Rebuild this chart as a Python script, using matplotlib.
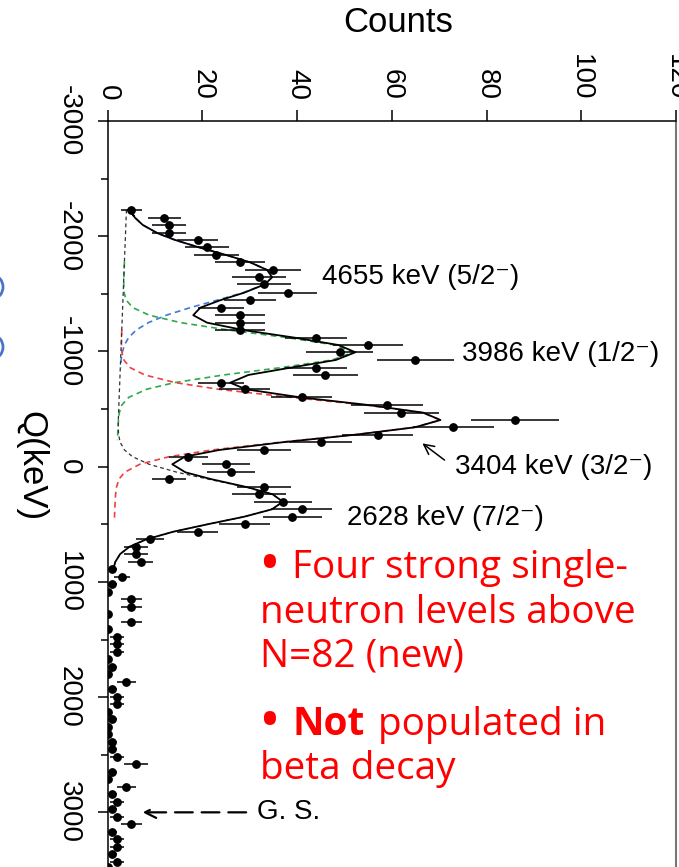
import numpy as np
import matplotlib
matplotlib.use("Agg")
import matplotlib.pyplot as plt
from matplotlib.patches import Ellipse

# measured spectrum: Q value of each bin (keV) and counts in it
q_kev = [-2228, -2162, -2098, -2026, -1968, -1904, -1838, -1774, -1707, -1644,
         -1583, -1510, -1444, -1380, -1315, -1250, -1185, -1120, -1056, -993,
         -926, -859, -796, -729, -672, -602, -536, -469, -405, -342,
         -278, -212, -145, -87, -21, 49, 107, 179, 240, 304,
         370, 434, 500, 564, 630, 694, 758, 827, 888, 955,
         1020, 1087, 1151, 1215, 1279, 1345, 1411, 1476, 1539, 1606,
         1669, 1736, 1802, 1866, 1932, 1997, 2060, 2127, 2190, 2257,
         2320, 2387, 2453, 2517, 2581, 2648, 2714, 2778, 2844, 2908,
         2974, 3038, 3102, 3168, 3234, 3299, 3362, 3429, 3472]
counts = [5, 12, 13, 13, 19, 21, 23, 28, 35, 32,
          33, 38, 30, 24, 28, 28, 28, 44, 55, 49,
          65, 44, 46, 24, 29, 41, 59, 62, 86, 73,
          57, 45, 33, 17, 25, 26, 13, 33, 32, 37,
          41, 39, 29, 19, 9, 6, 6, 7, 1, 3,
          1, 0, 5, 5, 0, 5, 0, 2, 2, 2,
          0, 1, 0, 4, 1, 2, 2, 0, 1, 0,
          0, 1, 1, 2, 6, 1, 0, 4, 1, 2,
          1, 2, 5, 1, 2, 2, 1, 2, 0]

# fitted peaks (gaussians on a linear background), evaluated at the bins
peak_labels = ["4655 keV (5/2\u207b)", "3986 keV (1/2\u207b)",
               "3404 keV (3/2\u207b)", "2628 keV (7/2\u207b)"]
peak_centroid = [-1650, -993, -411, 305]
peak_height = [31.3, 49.0, 68.0, 35.4]
peak_sigma = [215, 155, 170, 180]
peak_colors = ["#3b7bd4", "#2eaa4a", "#ee4040", "#303030"]
peak_from = [-2230, -1780, -1190, -2230]
peak_to = [-860, -230, 470, 900]

bg_q = [-2230, 2000]
bg_counts = [4.0, 0.0]
fit_range = [-2230, 900]

# text on the slide
bullet1 = ["Four strong single-", "neutron levels above", "N=82 (new)"]
bullet2_bold = "Not"
bullet2 = ["populated in", "beta decay"]

W, H = 679, 867
LBL = ["Liberation Sans", "DejaVu Sans"]
RFAM = ["Open Sans", "DejaVu Sans"]
RED = "#ff0000"


def background(q):
    return np.clip(np.interp(q, bg_q, bg_counts), 0, None)


def gauss(q, i):
    return peak_height[i] * np.exp(-0.5 * ((q - peak_centroid[i]) / peak_sigma[i]) ** 2)


def px(x, y):
    return x / W, 1 - y / H


plt.rcParams["font.family"] = LBL
plt.rcParams["axes.unicode_minus"] = False
fig = plt.figure(figsize=(W / 100, H / 100), dpi=100)
ax = fig.add_axes([107.5 / W, -0.0034, 568.5 / W, 0.8638])

qb = np.array(q_kev, dtype=float)

# components
for i in range(4):
    q = qb[(qb >= peak_from[i]) & (qb <= peak_to[i])]
    q = np.concatenate([[peak_from[i]], q, [peak_to[i]]])
    ax.plot(background(q) + gauss(q, i), q, color=peak_colors[i],
            lw=1.2 if i < 3 else 0.9, dashes=(3.5, 2.5) if i < 3 else (3, 2.5), zorder=2)

# total fit
q = qb[(qb >= fit_range[0]) & (qb <= fit_range[1])]
q = np.concatenate([[fit_range[0] + 50], q, [fit_range[1]]])
total = background(q) + sum(gauss(q, i) for i in range(4))
ax.plot(total, q, color="black", lw=1.3, zorder=3)

# data
c = np.array(counts, dtype=float)
ax.errorbar(c, q_kev, xerr=np.sqrt(c), fmt="o", color="black", ms=5.3,
            elinewidth=1.1, capsize=0, zorder=4)

ax.set_xlim(0, 120)
ax.set_ylim(3500, -3000)
ax.xaxis.tick_top()
ax.xaxis.set_label_position("top")
ax.set_xticks(range(0, 121, 20))
ax.set_yticks(range(-3000, 3001, 1000))
ax.set_yticks(range(-2500, 3501, 1000), minor=True)
ax.tick_params(axis="x", which="major", length=8, width=1.1, pad=7,
               labelsize=20, labelrotation=-90)
ax.tick_params(axis="y", which="major", length=7.2, width=1.1, pad=11.5,
               labelsize=20, labelrotation=-90)
ax.tick_params(axis="y", which="minor", length=5, width=1.1)
for lab in ax.get_yticklabels():
    lab.set_va("center")

for s in ("left", "top"):
    ax.spines[s].set_linewidth(1.1)
ax.spines["bottom"].set_visible(False)
ax.spines["right"].set_color("#777777")
ax.spines["right"].set_linewidth(1.5)

ax.set_xlabel("Counts", fontsize=25)
ax.xaxis.set_label_coords(0.512, 1.132)
ax.xaxis.label.set_va("center")
ax.set_ylabel("Q(keV)", fontsize=25, rotation=-90)
ax.yaxis.set_label_coords(-0.1346, 0.539)
ax.yaxis.label.set_va("center")

# peak labels
label_pos = [(45.3, -1647), (74.9, -978), (73.4, 3), (50.6, 446)]
for (lx, ly), text in zip(label_pos, peak_labels):
    ax.text(lx, ly, text, fontsize=20, ha="left", va="center", family=LBL)
ax.annotate("", xy=(66, -217), xytext=(71.6, -43),
            arrowprops=dict(arrowstyle="->", lw=1.1, color="black",
                            mutation_scale=18))

# ground state marker
ax.annotate("G. S.", xy=(7.4, 3000), xytext=(31.6, 3000), fontsize=20,
            va="center", ha="left",
            arrowprops=dict(arrowstyle="->", lw=1.6, color="black",
                            linestyle=(0, (8, 4)), mutation_scale=20,
                            shrinkA=6, shrinkB=0))

# red bullet text, sized so the widest line spans the same width as on the slide
renderer = fig.canvas.get_renderer()
probe = fig.text(0, 0, bullet1[1], fontsize=25, family=RFAM)
rsize = 25 * 377 / probe.get_window_extent(renderer=renderer).width
probe.remove()

rfont = dict(color=RED, fontsize=rsize, family=RFAM, va="baseline")
bfont = dict(color=RED, fontsize=rsize * 1.5, family=RFAM, va="center", ha="center")
fig.text(*px(269, 568), "\u2022", **bfont)
fig.text(*px(292, 578), bullet1[0], **rfont)
fig.text(*px(260, 623), bullet1[1], **rfont)
fig.text(*px(260, 667), bullet1[2], **rfont)
fig.text(*px(269, 725), "\u2022", **bfont)
t_not = fig.text(*px(292, 735), bullet2_bold, fontweight="bold", **rfont)
x_end = t_not.get_window_extent(renderer=renderer).x1
fig.text(*px(x_end + 14, 735), bullet2[0], **rfont)
fig.text(*px(260, 779), bullet2[1], **rfont)

# bits of neighbouring slide content at the left edge
for yc in (287, 347):
    x0, y0 = px(-6, yc)
    fig.patches.append(Ellipse((x0, y0), 18 / W, 22 / H, fill=False,
                               edgecolor="#4a74c8", lw=2,
                               transform=fig.transFigure, figure=fig))

fig.savefig("out.png", dpi=100)
